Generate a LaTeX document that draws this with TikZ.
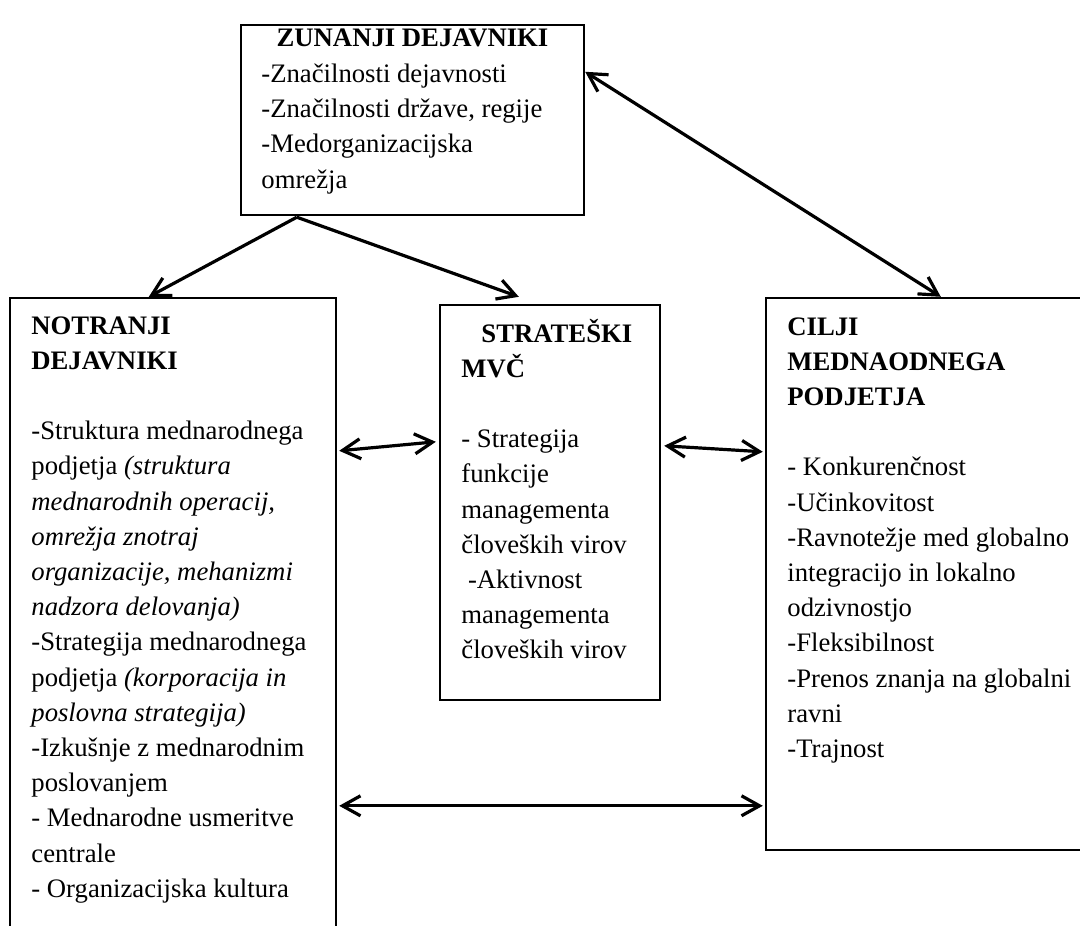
\documentclass[tikz,border=0pt]{standalone}
\usepackage{fontspec}
\setmainfont{Liberation Serif}
\usetikzlibrary{arrows.meta,fit,calc}
\newcommand{\boxlines}[1]{\begin{tabular}[t]{@{}l@{}}#1\end{tabular}}
\begin{document}
\begin{tikzpicture}[x=0.5pt,y=-0.5pt,
  box/.style={draw, line width=1.2pt, inner sep=0pt, rectangle},
  txt/.style={anchor=base west, inner sep=0pt, font=\fontsize{13.35pt}{17.6pt}\selectfont},
  conn/.style={line width=1.6pt, -{Straight Barb[length=9pt,width=10pt]}},
  bconn/.style={line width=1.6pt, {Straight Barb[length=9pt,width=10pt]}-{Straight Barb[length=9pt,width=10pt]}}]
\clip (0,0) rectangle (1080,925);
\fill[white] (0,0) rectangle (1080,925);
% boxes
\node[box, fit={(241,25) (584,215)}] (zun) {};
\node[box, fit={(10,298) (336,960)}] (notr) {};
\node[box, fit={(440,305) (660,700)}] (strat) {};
\node[box, fit={(766,298) (1090,850)}] (cilji) {};
% texts
\node[txt, anchor=base] (zunH) at (412.5,47) {\textbf{ZUNANJI DEJAVNIKI}};
\node[txt] (zunT) at (261,82.5) {\boxlines{-Značilnosti dejavnosti\\ -Značilnosti države, regije\\ -Medorganizacijska\\ omrežja}};
\node[txt] (notrT) at (31,334) {\boxlines{\textbf{NOTRANJI}\\ \textbf{DEJAVNIKI}\\ \\ -Struktura mednarodnega\\ podjetja \textit{(struktura}\\ \textit{mednarodnih operacij,}\\ \textit{omrežja znotraj}\\ \textit{organizacije, mehanizmi}\\ \textit{nadzora delovanja)}\\ -Strategija mednarodnega\\ podjetja \textit{(korporacija in}\\ \textit{poslovna strategija)}\\ -Izkušnje z mednarodnim\\ poslovanjem\\ - Mednarodne usmeritve\\ centrale\\ - Organizacijska kultura}};
\node[txt] (stratT) at (461,342) {\boxlines{\hspace{10pt}\textbf{STRATEŠKI}\\ \textbf{MVČ}\\ \\ - Strategija\\ funkcije\\ managementa\\ človeških virov\\ \hspace{3.3pt}-Aktivnost\\ managementa\\ človeških virov}};
\node[txt] (ciljiT) at (787,335) {\boxlines{\textbf{CILJI}\\ \textbf{MEDNAODNEGA}\\ \textbf{PODJETJA}\\ \\ - Konkurenčnost\\ -Učinkovitost\\ -Ravnotežje med globalno\\ integracijo in lokalno\\ odzivnostjo\\ -Fleksibilnost\\ -Prenos znanja na globalni\\ ravni\\ -Trajnost}};
% connectors
\draw[conn] ($(zun.south west)+(57,1)$) -- ($(notr.north west)+(140,0)$);
\draw[conn] ($(zun.south west)+(57,1)$) -- ($(strat.north west)+(80,-7)$);
\draw[bconn] ($(zun.north east)+(0,48)$) -- ($(cilji.north west)+(176,0)$);
\draw[bconn] ($(notr.north east)+(2,154)$) -- ($(strat.north west)+(-3,138)$);
\draw[bconn] ($(strat.north east)+(3,142)$) -- ($(cilji.north west)+(-2,155)$);
\draw[bconn] ($(notr.north east)+(2,509)$) -- ($(cilji.north west)+(-2,509)$);
\end{tikzpicture}
\end{document}
